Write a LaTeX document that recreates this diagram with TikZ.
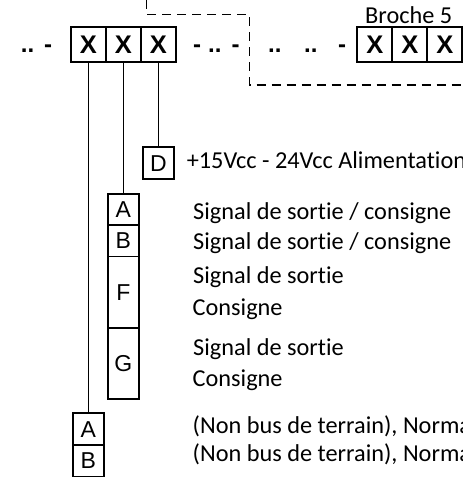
\documentclass[tikz,border=0pt]{standalone}
\usepackage{fontspec}
\setmainfont{Carlito}[Ligatures={NoCommon,NoRequired,NoContextual}]
\newfontfamily\arialfont{Liberation Sans}
\begin{document}
\begin{tikzpicture}[x=1pt,y=-1pt,
  cell/.style={draw,line width=2pt,minimum width=35pt,minimum height=35pt,inner sep=0pt,font=\arialfont\bfseries\fontsize{25.5}{26}\selectfont},
  pin/.style={draw,line width=1.7pt,minimum width=31.3pt,inner sep=0pt,font=\arialfont\fontsize{23}{23}\selectfont},
  lbl/.style={anchor=base west,inner sep=0pt,font=\fontsize{24.3}{28}\selectfont},
  sym/.style={anchor=base west,inner sep=0pt,font=\arialfont\bfseries\fontsize{24}{28}\selectfont},
  wire/.style={line width=1.7pt},
  dashline/.style={line width=1.1pt,dash pattern=on 9pt off 6pt}]
\useasboundingbox (0,0) rectangle (463,477);
\clip (0,0) rectangle (463,477);

% top row, left group
\node[sym] (dl1) at (20.7,52) {..};
\node[sym] (hl1) at (44,52) {-};
\node[cell] (x1) at (88.5,44.5) {X};
\node[cell] (x2) at (123.5,44.5) {X};
\node[cell] (x3) at (158.5,44.5) {X};
\node[sym] (hm1) at (192.8,52) {-};
\node[sym] (dm1) at (208,52) {..};
\node[sym] (hm2) at (231.5,52) {-};
% right group
\node[sym] (dr1) at (268,52) {..};
\node[sym] (dr2) at (304,52) {..};
\node[sym] (hr1) at (337.8,52) {-};
\node[cell] (y1) at (374.8,44.5) {X};
\node[cell] (y2) at (409.8,44.5) {X};
\node[cell] (y3) at (444.8,44.5) {X};
\node[lbl] (broche) at (365,23.3) {Broche 5};

% dashed outline
\draw[dashline] (146.5,0) -- (146.5,14.3) -- (249.3,14.3) -- (249.3,85) -- (470,85);

% pin boxes
\node[pin,minimum height=32pt] (D) at (158.35,163.3) {D};
\node[pin,minimum height=30.7pt] (A1) at (123.35,209.65) {A};
\node[pin,minimum height=31.5pt] (B1) at (123.35,240.75) {B};
\node[pin,minimum height=71.5pt] (F) at (123.35,292.25) {F};
\node[pin,minimum height=71pt] (G) at (123.35,363.5) {G};
\node[pin,minimum height=31.7pt] (A2) at (88.35,429.15) {A};
\node[pin,minimum height=31.7pt] (B2) at (88.35,460.85) {B};

% wires
\draw[wire] (x1.south) -- (x1.south |- A2.north);
\draw[wire] (x2.south) -- (x2.south |- A1.north);
\draw[wire] (x3.south) -- (x3.south |- D.north);

% labels
\node[lbl] (tD) at (186.6,168.3) {+15Vcc - 24Vcc Alimentation};
\node[lbl] (tA1) at (193,219.5) {Signal de sortie / consigne};
\node[lbl] (tB1) at (193,249.5) {Signal de sortie / consigne};
\node[lbl] (tF1) at (193,283.5) {Signal de sortie};
\node[lbl] (tF2) at (192.5,315) {Consigne};
\node[lbl] (tG1) at (193,355) {Signal de sortie};
\node[lbl] (tG2) at (192.5,386) {Consigne};
\node[lbl] (tA2) at (192.5,433.3) {(Non bus de terrain), Norma};
\node[lbl] (tB2) at (192.5,461.7) {(Non bus de terrain), Norma};
\end{tikzpicture}
\end{document}
